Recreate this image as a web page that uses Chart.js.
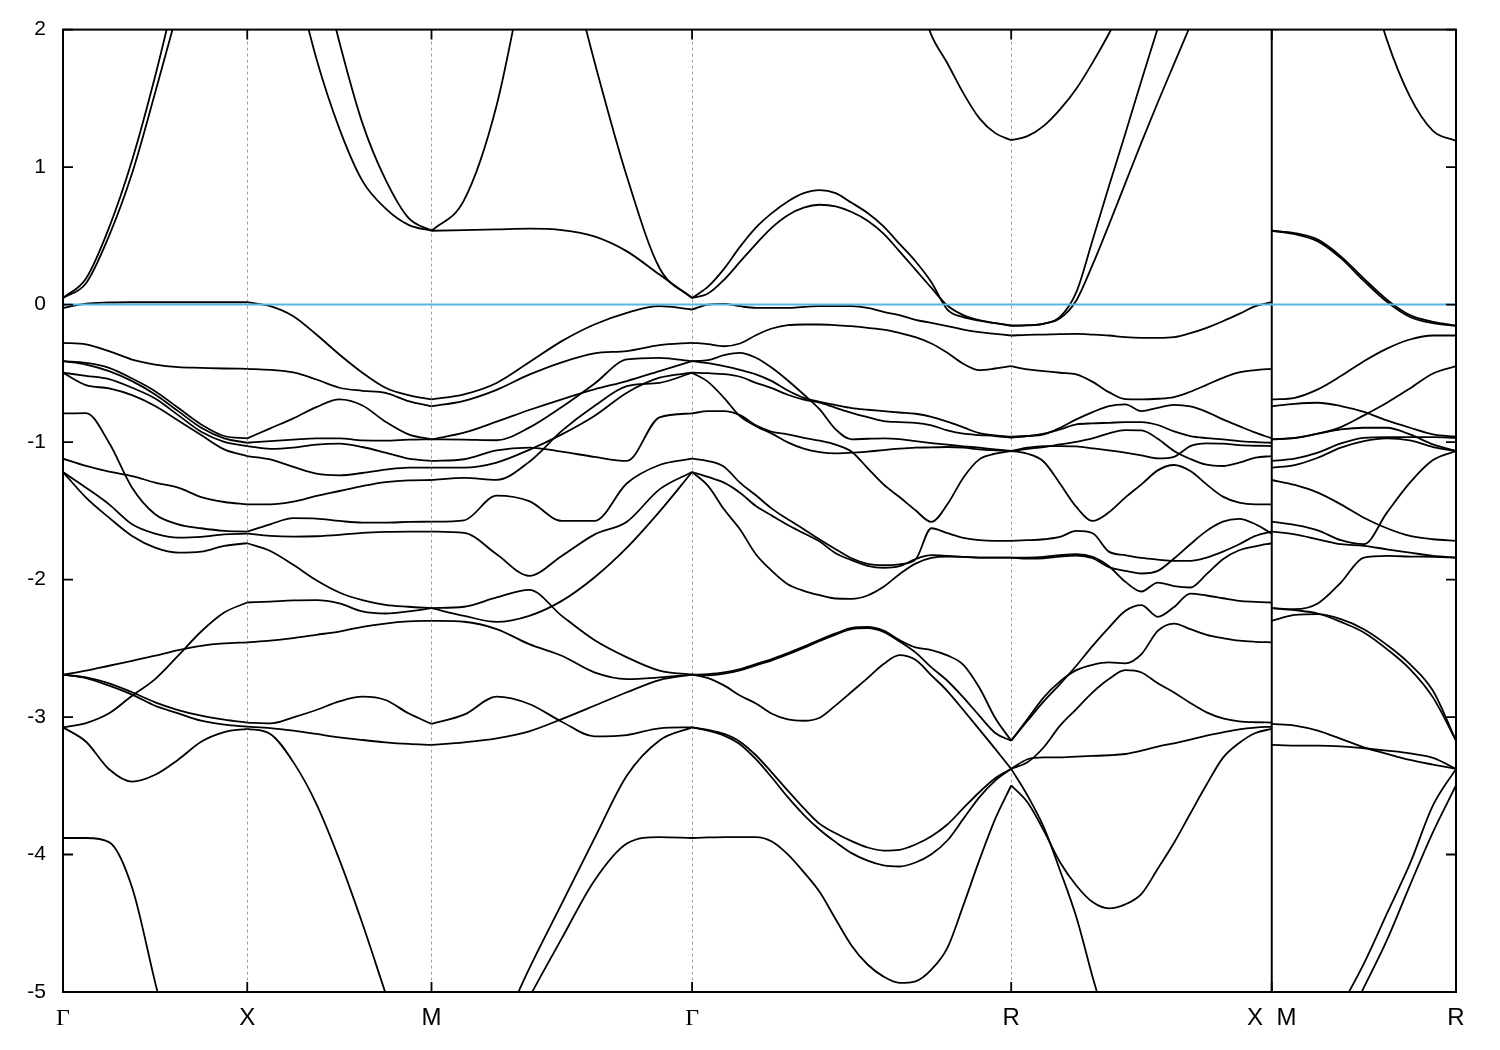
<!DOCTYPE html>
<html><head><meta charset="utf-8">
<script src="https://cdn.jsdelivr.net/npm/chart.js@4.4.1/dist/chart.umd.min.js"></script>
<style>html,body{margin:0;padding:0;background:#fff;}canvas{display:block;}</style>
</head><body>
<canvas id="c" width="1500" height="1050"></canvas>
<script>
// k-path positions of the high-symmetry points and their labels
const K_TICKS = [0, 0.5, 1.0, 1.7071, 2.5731, 3.2802, 3.7802];
const K_LABELS = ['Γ', 'X', 'M', 'Γ', 'R', 'X  M', 'R'];
const Y_MIN = -5, Y_MAX = 2, FERMI = 0;
// sample fractions along each segment
const F9 = [0, 0.125, 0.25, 0.375, 0.5, 0.625, 0.75, 0.875, 1];
const F17 = [0, 0.0625, 0.125, 0.1875, 0.25, 0.3125, 0.375, 0.4375, 0.5, 0.5625, 0.625, 0.6875, 0.75, 0.8125, 0.875, 0.9375, 1];
const F21 = [0, 0.05, 0.1, 0.15, 0.2, 0.25, 0.3, 0.35, 0.4, 0.45, 0.5, 0.55, 0.6, 0.65, 0.7, 0.75, 0.8, 0.85, 0.9, 0.95, 1];

// Γ -> X
const BANDS_GX = [
  [-0.025, 0.007, 0.015, 0.017, 0.017, 0.017, 0.017, 0.017, 0.017],
  [-0.278, -0.29, -0.339, -0.40, -0.436, -0.455, -0.46, -0.465, -0.467],
  [-0.412, -0.424, -0.46, -0.538, -0.63, -0.751, -0.872, -0.956, -0.973],
  [-0.412, -0.436, -0.484, -0.557, -0.654, -0.775, -0.896, -0.973, -1.005],
  [-0.496, -0.518, -0.542, -0.605, -0.683, -0.804, -0.925, -0.998, -1.029],
  [-0.496, -0.586, -0.61, -0.659, -0.738, -0.843, -0.949, -1.053, -1.102],
  [-0.792, -0.789, -1.005, -1.332, -1.525, -1.598, -1.627, -1.646, -1.651],
  [-1.121, -1.174, -1.215, -1.247, -1.295, -1.332, -1.4, -1.436, -1.453],
  [-1.218, -1.332, -1.453, -1.598, -1.666, -1.695, -1.69, -1.671, -1.666],
  [-1.218, -1.404, -1.55, -1.683, -1.768, -1.804, -1.797, -1.755, -1.736],
  [-2.692, -2.663, -2.627, -2.591, -2.554, -2.513, -2.482, -2.465, -2.457],
  [-2.692, -2.712, -2.755, -2.82, -2.893, -2.949, -2.99, -3.019, -3.04],
  [-2.692, -2.717, -2.772, -2.837, -2.918, -2.973, -3.027, -3.056, -3.07],
  [-3.075, -3.044, -2.973, -2.845, -2.724, -2.554, -2.378, -2.24, -2.167],
  [-3.075, -3.18, -3.38, -3.47, -3.42, -3.31, -3.18, -3.11, -3.086],
  [-3.88, -3.88, -3.91, -4.24, -4.93, -5.6, null, null, null],
  [0.048, 0.19, 0.56, 1.05, 1.66, 2.35, null, null, null],
  [0.048, 0.155, 0.50, 0.955, 1.54, 2.15, 2.8, null, null]
];
// X -> M
const BANDS_XM = [
  [0.017, -0.012, -0.085, -0.218, -0.363, -0.496, -0.605, -0.659, -0.69],
  [-0.467, -0.475, -0.494, -0.545, -0.605, -0.627, -0.642, -0.702, -0.74],
  [-0.973, -0.9, -0.828, -0.746, -0.69, -0.734, -0.852, -0.944, -0.98],
  [-1.005, -0.993, -0.983, -0.973, -0.973, -0.988, -0.99, -0.983, -0.98],
  [-1.029, -1.05, -1.041, -1.019, -1.012, -1.036, -1.077, -1.121, -1.137],
  [-1.102, -1.126, -1.181, -1.23, -1.242, -1.225, -1.201, -1.186, -1.186],
  [-1.453, -1.453, -1.433, -1.392, -1.356, -1.32, -1.291, -1.278, -1.276],
  [-1.651, -1.598, -1.554, -1.557, -1.574, -1.586, -1.586, -1.581, -1.579],
  [-1.666, -1.683, -1.688, -1.685, -1.675, -1.661, -1.654, -1.651, -1.651],
  [-1.736, -1.792, -1.893, -2.005, -2.094, -2.15, -2.184, -2.198, -2.208],
  [-2.167, -2.16, -2.152, -2.15, -2.174, -2.232, -2.247, -2.232, -2.208],
  [-2.457, -2.445, -2.426, -2.402, -2.378, -2.344, -2.32, -2.305, -2.3],
  [-3.04, -3.046, -3.002, -2.949, -2.886, -2.852, -2.876, -2.973, -3.05],
  [-3.07, -3.08, -3.099, -3.123, -3.148, -3.167, -3.184, -3.196, -3.203],
  [-3.086, -3.123, -3.328, -3.631, -4.037, -4.502, -5.006, -5.5, null],
  [null, null, 2.45, 1.79, 1.28, 0.90, 0.70, 0.58, 0.537],
  [null, null, null, 2.6, 1.91, 1.32, 0.91, 0.63, 0.537]
];
// M -> Γ
const BANDS_MG = [
  [-0.69, -0.653, -0.57, -0.42, -0.266, -0.145, -0.06, -0.012, -0.036],
  [-0.74, -0.70, -0.62, -0.51, -0.42, -0.355, -0.338, -0.295, -0.278],
  [-0.98, -0.932, -0.852, -0.767, -0.689, -0.617, -0.556, -0.484, -0.412],
  [-0.98, -0.983, -0.987, -0.895, -0.745, -0.576, -0.399, -0.387, -0.412],
  [-1.137, -1.125, -1.06, -1.04, -1.07, -1.108, -1.137, -0.82, -0.792],
  [-1.186, -1.186, -1.149, -1.057, -0.944, -0.81, -0.641, -0.532, -0.496],
  [-1.276, -1.26, -1.275, -1.144, -0.919, -0.738, -0.593, -0.569, -0.496],
  [-1.579, -1.569, -1.39, -1.43, -1.574, -1.574, -1.30, -1.167, -1.121],
  [-1.651, -1.66, -1.816, -1.973, -1.828, -1.673, -1.579, -1.344, -1.218],
  [-2.208, -2.198, -2.13, -2.075, -2.264, -2.44, -2.566, -2.663, -2.692],
  [-2.208, -2.264, -2.308, -2.264, -2.155, -1.985, -1.768, -1.506, -1.218],
  [-2.30, -2.307, -2.36, -2.47, -2.554, -2.675, -2.724, -2.712, -2.692],
  [-3.05, -2.983, -2.852, -2.905, -3.034, -3.14, -3.131, -3.082, -3.075],
  [-3.203, -3.184, -3.155, -3.104, -3.015, -2.918, -2.82, -2.731, -2.692],
  [null, null, -5.35, -4.83, -4.357, -3.885, -3.425, -3.17, -3.075],
  [null, null, -5.5, -5.04, -4.61, -4.19, -3.92, -3.873, -3.88],
  [0.537, 0.76, 1.45, 2.6, null, null, null, null, null],
  [0.537, 0.542, 0.547, 0.552, 0.542, 0.496, 0.387, 0.218, 0.048],
  [null, null, null, null, 2.7, 1.77, 0.93, 0.266, 0.048]
];
// Γ -> R
const BANDS_GR = [
  [-0.036, 0.0, 0.005, -0.012, -0.024, -0.024, -0.024, -0.017, -0.012, -0.012, -0.012, -0.024, -0.053, -0.077, -0.111, -0.133, -0.157, -0.182, -0.201, -0.213, -0.225],
  [-0.278, -0.288, -0.303, -0.283, -0.223, -0.174, -0.15, -0.145, -0.145, -0.15, -0.157, -0.169, -0.182, -0.206, -0.237, -0.283, -0.351, -0.431, -0.477, -0.465, -0.448],
  [-0.412, -0.404, -0.368, -0.351, -0.387, -0.46, -0.552, -0.654, -0.763, -0.908, -0.98, -0.976, -0.973, -0.978, -0.993, -1.007, -1.019, -1.031, -1.041, -1.053, -1.065],
  [-0.412, -0.426, -0.448, -0.475, -0.508, -0.557, -0.625, -0.678, -0.707, -0.731, -0.753, -0.765, -0.775, -0.785, -0.794, -0.816, -0.852, -0.893, -0.935, -0.952, -0.961],
  [-0.496, -0.499, -0.506, -0.525, -0.569, -0.608, -0.656, -0.692, -0.714, -0.751, -0.787, -0.818, -0.847, -0.855, -0.86, -0.879, -0.915, -0.939, -0.949, -0.956, -0.969],
  [-0.496, -0.562, -0.678, -0.811, -0.884, -0.939, -1.002, -1.048, -1.073, -1.082, -1.077, -1.07, -1.058, -1.048, -1.041, -1.039, -1.036, -1.041, -1.053, -1.06, -1.065],
  [-0.792, -0.775, -0.775, -0.804, -0.879, -0.925, -0.944, -0.969, -0.99, -1.019, -1.07, -1.189, -1.308, -1.4, -1.496, -1.581, -1.453, -1.259, -1.126, -1.085, -1.065],
  [-1.121, -1.138, -1.179, -1.295, -1.387, -1.484, -1.562, -1.634, -1.709, -1.779, -1.845, -1.886, -1.896, -1.889, -1.855, -1.627, -1.663, -1.697, -1.714, -1.719, -1.719],
  [-1.218, -1.254, -1.295, -1.368, -1.465, -1.535, -1.603, -1.663, -1.724, -1.809, -1.859, -1.901, -1.915, -1.903, -1.852, -1.823, -1.828, -1.835, -1.84, -1.84, -1.84],
  [-1.218, -1.319, -1.489, -1.634, -1.816, -1.937, -2.034, -2.082, -2.114, -2.138, -2.14, -2.116, -2.053, -1.961, -1.884, -1.843, -1.833, -1.835, -1.84, -1.84, -1.84],
  [-2.692, -2.688, -2.676, -2.651, -2.615, -2.579, -2.535, -2.488, -2.438, -2.392, -2.352, -2.345, -2.372, -2.44, -2.494, -2.513, -2.552, -2.62, -2.785, -3.007, -3.172],
  [-2.692, -2.696, -2.685, -2.66, -2.624, -2.588, -2.544, -2.497, -2.447, -2.401, -2.361, -2.354, -2.381, -2.45, -2.53, -2.639, -2.736, -2.857, -2.99, -3.116, -3.172],
  [-2.692, -2.717, -2.77, -2.843, -2.901, -2.976, -3.017, -3.027, -3.005, -2.915, -2.816, -2.717, -2.615, -2.55, -2.584, -2.697, -2.811, -2.949, -3.09, -3.232, -3.377],
  [-3.075, -3.094, -3.123, -3.179, -3.278, -3.404, -3.535, -3.663, -3.777, -3.845, -3.903, -3.949, -3.971, -3.966, -3.927, -3.867, -3.782, -3.663, -3.547, -3.445, -3.377],
  [-3.075, -3.099, -3.135, -3.198, -3.307, -3.44, -3.583, -3.711, -3.82, -3.91, -3.99, -4.045, -4.079, -4.087, -4.058, -3.998, -3.898, -3.741, -3.584, -3.462, -3.377],
  [-3.88, -3.876, -3.873, -3.873, -3.873, -3.905, -3.999, -4.128, -4.273, -4.471, -4.663, -4.8, -4.888, -4.934, -4.922, -4.837, -4.679, -4.37, -4.043, -3.741, -3.498],
  [0.048, 0.13, 0.26, 0.42, 0.56, 0.665, 0.75, 0.81, 0.833, 0.81, 0.74, 0.666, 0.569, 0.441, 0.315, 0.162, -0.036, -0.092, -0.116, -0.135, -0.152],
  [0.048, 0.08, 0.18, 0.31, 0.44, 0.56, 0.65, 0.705, 0.726, 0.714, 0.673, 0.61, 0.516, 0.387, 0.254, 0.121, -0.007, -0.077, -0.114, -0.135, -0.155],
  [null, null, null, null, null, null, null, null, null, null, null, null, null, null, 2.3, 1.96, 1.755, 1.538, 1.356, 1.247, 1.196]
];
// R -> X
const BANDS_RX = [
  [-0.225, -0.22, -0.218, -0.215, -0.213, -0.218, -0.225, -0.237, -0.242, -0.242, -0.237, -0.208, -0.169, -0.121, -0.068, -0.012, 0.017],
  [-0.448, -0.472, -0.484, -0.496, -0.508, -0.562, -0.637, -0.688, -0.69, -0.685, -0.673, -0.634, -0.584, -0.533, -0.494, -0.477, -0.467],
  [-0.961, -0.956, -0.944, -0.896, -0.835, -0.782, -0.738, -0.726, -0.775, -0.751, -0.729, -0.741, -0.78, -0.835, -0.884, -0.932, -0.973],
  [-0.969, -0.956, -0.939, -0.908, -0.872, -0.864, -0.86, -0.855, -0.855, -0.876, -0.923, -0.956, -0.971, -0.981, -0.993, -1.0, -1.005],
  [-1.065, -1.05, -1.036, -1.017, -0.998, -0.973, -0.937, -0.913, -0.915, -0.976, -1.065, -1.123, -1.165, -1.174, -1.15, -1.114, -1.102],
  [-1.065, -1.041, -1.029, -1.029, -1.031, -1.046, -1.06, -1.077, -1.097, -1.119, -1.107, -1.029, -1.01, -1.012, -1.022, -1.027, -1.029],
  [-1.065, -1.085, -1.143, -1.303, -1.472, -1.574, -1.511, -1.404, -1.308, -1.206, -1.167, -1.211, -1.308, -1.397, -1.441, -1.453, -1.453],
  [-1.719, -1.714, -1.707, -1.69, -1.646, -1.663, -1.797, -1.823, -1.843, -1.855, -1.864, -1.864, -1.84, -1.797, -1.743, -1.683, -1.651],
  [-1.84, -1.84, -1.835, -1.823, -1.816, -1.835, -1.903, -2.015, -2.087, -2.022, -2.048, -2.058, -1.961, -1.852, -1.787, -1.758, -1.736],
  [-1.84, -1.848, -1.845, -1.833, -1.826, -1.845, -1.91, -1.937, -1.956, -1.937, -1.847, -1.743, -1.646, -1.579, -1.559, -1.598, -1.666],
  [-3.172, -3.027, -2.886, -2.76, -2.627, -2.482, -2.349, -2.228, -2.186, -2.271, -2.2, -2.102, -2.116, -2.136, -2.155, -2.162, -2.167],
  [-3.172, -3.015, -2.857, -2.741, -2.659, -2.62, -2.603, -2.61, -2.542, -2.373, -2.32, -2.361, -2.402, -2.426, -2.445, -2.453, -2.457],
  [-3.377, -3.329, -3.22, -3.063, -2.942, -2.821, -2.724, -2.659, -2.676, -2.755, -2.821, -2.898, -2.966, -3.01, -3.031, -3.038, -3.04],
  [-3.377, -3.307, -3.293, -3.293, -3.288, -3.283, -3.278, -3.269, -3.245, -3.215, -3.191, -3.164, -3.135, -3.111, -3.09, -3.077, -3.07],
  [-3.498, -3.62, -3.825, -4.056, -4.225, -4.346, -4.392, -4.363, -4.286, -4.104, -3.915, -3.702, -3.491, -3.297, -3.189, -3.116, -3.086],
  [-3.377, -3.571, -3.801, -4.116, -4.455, -4.891, -5.3, null, null, null, null, null, null, null, null, null, null],
  [1.196, 1.225, 1.30, 1.42, 1.57, 1.76, 1.97, 2.2, 2.45, null, null, null, null, null, null, null, null],
  [-0.152, -0.15, -0.138, -0.09, 0.09, 0.47, 0.86, 1.24, 1.63, 2.01, 2.4, null, null, null, null, null, null],
  [-0.155, -0.152, -0.14, -0.1, 0.03, 0.29, 0.58, 0.88, 1.18, 1.47, 1.75, 2.03, 2.32, null, null, null, null]
];
// M -> R
const BANDS_MR = [
  [-0.69, -0.678, -0.617, -0.52, -0.412, -0.32, -0.254, -0.225, -0.225],
  [-0.74, -0.722, -0.714, -0.738, -0.78, -0.843, -0.896, -0.944, -0.961],
  [-0.98, -0.971, -0.939, -0.891, -0.806, -0.714, -0.61, -0.501, -0.448],
  [-0.98, -0.969, -0.939, -0.908, -0.896, -0.896, -0.944, -1.017, -1.065],
  [-1.137, -1.121, -1.077, -1.01, -0.969, -0.964, -0.964, -0.964, -0.969],
  [-1.186, -1.167, -1.114, -1.041, -0.993, -0.973, -0.988, -1.036, -1.065],
  [-1.276, -1.312, -1.368, -1.453, -1.55, -1.627, -1.683, -1.707, -1.719],
  [-1.579, -1.603, -1.642, -1.714, -1.743, -1.513, -1.295, -1.131, -1.065],
  [-1.651, -1.671, -1.707, -1.743, -1.755, -1.78, -1.804, -1.828, -1.84],
  [-2.208, -2.215, -2.174, -2.022, -1.84, -1.828, -1.833, -1.835, -1.84],
  [-2.208, -2.223, -2.247, -2.308, -2.385, -2.506, -2.651, -2.857, -3.172],
  [-2.3, -2.257, -2.252, -2.288, -2.361, -2.475, -2.615, -2.809, -3.172],
  [-3.05, -3.062, -3.099, -3.159, -3.22, -3.268, -3.312, -3.346, -3.377],
  [-3.203, -3.208, -3.208, -3.213, -3.227, -3.244, -3.264, -3.297, -3.377],
  [null, null, null, -5.108, -4.793, -4.43, -4.067, -3.643, -3.377],
  [null, null, null, -5.3, -4.967, -4.623, -4.224, -3.837, -3.498],
  [0.537, 0.52, 0.472, 0.351, 0.189, 0.036, -0.077, -0.125, -0.152],
  [0.537, 0.512, 0.46, 0.338, 0.172, 0.02, -0.09, -0.135, -0.155],
  [null, null, null, null, 2.5, 1.925, 1.513, 1.264, 1.19]
];

// segment table: [start tick index, end tick index, sampling, bands]
const SEGMENTS = [
  [0, 1, F9, BANDS_GX],
  [1, 2, F9, BANDS_XM],
  [2, 3, F9, BANDS_MG],
  [3, 4, F21, BANDS_GR],
  [4, 5, F17, BANDS_RX],
  [5, 6, F9, BANDS_MR]
];

const datasets = [];
datasets.push({
  data: [{x: K_TICKS[0], y: FERMI}, {x: K_TICKS[K_TICKS.length - 1], y: FERMI}],
  borderColor: '#56B4E9', borderWidth: 2, pointRadius: 0, tension: 0, order: 0
});
SEGMENTS.forEach(([a, b, grid, bands]) => {
  const k0 = K_TICKS[a], k1 = K_TICKS[b];
  bands.forEach(band => {
    datasets.push({
      data: grid.map((f, i) => ({x: k0 + f * (k1 - k0), y: band[i]})),
      borderColor: '#000', borderWidth: 1.8, pointRadius: 0,
      cubicInterpolationMode: 'monotone', spanGaps: false, order: 1
    });
  });
});
// path discontinuity X|M
datasets.push({
  data: [{x: K_TICKS[5], y: Y_MIN}, {x: K_TICKS[5], y: Y_MAX}],
  borderColor: '#000', borderWidth: 2, pointRadius: 0, tension: 0, order: 1
});

const framePlugin = {
  id: 'frame',
  afterDatasetsDraw(chart) {
    const {ctx, chartArea: a, scales: {x, y}} = chart;
    ctx.save();
    ctx.strokeStyle = '#000';
    ctx.lineWidth = 1.8;
    ctx.beginPath();
    for (let v = Y_MIN; v <= Y_MAX; v++) {
      const py = y.getPixelForValue(v);
      ctx.moveTo(a.left, py); ctx.lineTo(a.left + 10, py);
      ctx.moveTo(a.right, py); ctx.lineTo(a.right - 10, py);
    }
    K_TICKS.forEach(k => {
      const px = x.getPixelForValue(k);
      ctx.moveTo(px, a.bottom); ctx.lineTo(px, a.bottom - 10);
      ctx.moveTo(px, a.top); ctx.lineTo(px, a.top + 10);
    });
    ctx.stroke();
    ctx.lineWidth = 2;
    ctx.strokeRect(a.left, a.top, a.right - a.left, a.bottom - a.top);
    ctx.restore();
  }
};

new Chart(document.getElementById('c'), {
  type: 'line',
  data: {datasets},
  plugins: [framePlugin],
  options: {
    responsive: false, animation: false, devicePixelRatio: 1,
    layout: {padding: {left: 0, right: 44, top: 28, bottom: 0}},
    plugins: {legend: {display: false}, tooltip: {enabled: false}},
    elements: {line: {borderCapStyle: 'butt', borderJoinStyle: 'round'}},
    scales: {
      x: {
        type: 'linear', min: K_TICKS[0], max: K_TICKS[K_TICKS.length - 1],
        afterBuildTicks: s => { s.ticks = K_TICKS.map(v => ({value: v})); },
        afterFit: s => { s.height = 58; },
        grid: {color: '#a0a0a0', lineWidth: 1, drawTicks: false},
        border: {display: false, dash: [3, 3]},
        ticks: {
          autoSkip: false, maxRotation: 0, minRotation: 0, padding: 12, color: '#000',
          font: c => ({family: K_LABELS[c.index] === 'Γ' ? 'Liberation Serif' : 'Liberation Sans', size: 24}),
          callback: (v, i) => K_LABELS[i]
        }
      },
      y: {
        min: Y_MIN, max: Y_MAX,
        afterFit: s => { s.width = 63; },
        grid: {display: false, drawTicks: false},
        border: {display: false},
        ticks: {stepSize: 1, padding: 17, color: '#000', font: {family: 'Liberation Sans', size: 21}}
      }
    }
  }
});
</script>
</body></html>
